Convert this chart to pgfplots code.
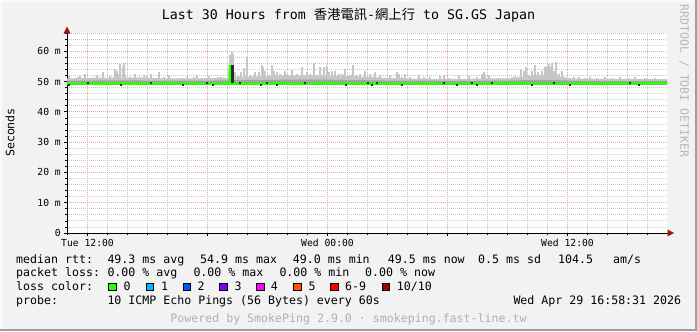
\documentclass[border=0pt]{standalone}
\usepackage{pgfplots}
\pgfplotsset{compat=1.18}
\usepackage{fontspec}
\setmainfont{DejaVu Sans Mono}
\newfontfamily\cjk{Noto Sans CJK TC}
\definecolor{canvas}{HTML}{F2F2F2}
\definecolor{shadeA}{HTML}{FAFAFA}
\definecolor{shadeB}{HTML}{9E9E9E}
\definecolor{mgrid}{HTML}{EBA6A6}
\definecolor{mingrid}{HTML}{C6C6C6}
\definecolor{arrowred}{HTML}{A01010}
\definecolor{medgreen}{HTML}{26FF00}
\definecolor{smokelight}{HTML}{C6C6C6}
\definecolor{smokemid}{HTML}{A2A2A2}
\definecolor{smokedark}{HTML}{2A2A2A}
\definecolor{credit}{HTML}{B0B0B0}
\definecolor{water}{HTML}{B8B8B8}
\definecolor{l0}{HTML}{26FF00}
\definecolor{l1}{HTML}{00B8FF}
\definecolor{l2}{HTML}{0059FF}
\definecolor{l3}{HTML}{7E00FF}
\definecolor{l4}{HTML}{FF00FF}
\definecolor{l5}{HTML}{FF5500}
\definecolor{l6}{HTML}{FF0000}
\definecolor{l10}{HTML}{A00000}

\begin{document}
\begin{tikzpicture}[x=1bp,y=1bp]
\fill[canvas] (0,0) rectangle (697,331);
\path[use as bounding box] (0,0) rectangle (697,331);
\fill[shadeA] (0,329) rectangle (697,331);
\fill[shadeA] (0,0) rectangle (2,331);
\fill[shadeB] (0,0) rectangle (697,2);
\fill[shadeB] (695,0) rectangle (697,331);

\begin{axis}[
  at={(67bp,98bp)}, anchor=south west,
  scale only axis, width=600bp, height=200bp,
  xmin=10.975, xmax=40.975, ymin=0, ymax=66,
  axis background/.style={fill=white},
  axis x line*=bottom, axis y line*=left,
  axis line style={black, line width=0.9bp},
  xtick={12,18,24,30,36},
  xticklabels={Tue 12:00,,Wed 00:00,,Wed 12:00},
  minor xtick={11,...,40},
  ytick={0,10,...,60},
  yticklabels={0,10 m,20 m,30 m,40 m,50 m,60 m},
  minor ytick={2,4,...,66},
  tick align=outside, major tick length=3bp, minor tick length=2bp,
  tick style={black, line width=0.7bp},
  grid=both,
  minor grid style={mingrid, dash pattern=on 1bp off 1bp, line width=0.8bp},
  major grid style={mgrid, dash pattern=on 1bp off 1bp, line width=0.8bp},
  ticklabel style={font=\fontsize{9.7bp}{10bp}\selectfont, text=black},
  xticklabel style={inner sep=0pt, yshift=-3bp},
  yticklabel style={inner sep=0pt, xshift=-3bp},
  unbounded coords=jump,
  clip=false,
]
% light smoke band (top edge forward, bottom edge back)
\addplot[fill=smokelight, draw=none, forget plot] table {
t y
10.975 51.0
12.0 51.2
13.0 51.3
14.0 51.3
15.0 51.2
16.0 51.0
17.0 51.0
18.0 51.1
19.0 51.2
20.0 51.6
21.0 51.8
22.0 52.0
23.0 52.0
24.0 52.0
25.0 51.8
26.0 51.5
27.0 51.2
28.0 51.0
29.0 50.9
30.0 50.9
31.0 50.9
32.0 51.0
33.0 51.0
33.6 51.4
34.2 52.0
35.0 52.3
35.6 51.6
36.2 51.0
37.0 50.9
38.0 50.9
39.0 50.9
40.0 50.8
40.975 50.8
40.975 48.9
10.975 48.9
} -- cycle;

% smoke spikes (time in hours since Tue 00:00, bottom and top in ms)
\addplot[smokelight, line width=1.8bp, forget plot] coordinates {
(11.075,49)(11.075,52.1)(11.075,nan)
(11.525,49)(11.525,51.6)(11.525,nan)
(11.625,49)(11.625,51.8)(11.625,nan)
(11.875,49)(11.875,52.4)(11.875,nan)
(12.325,49)(12.325,51.0)(12.325,nan)
(12.475,49)(12.475,52.1)(12.475,nan)
(12.775,49)(12.775,53.1)(12.775,nan)
(13.125,49)(13.125,51.8)(13.125,nan)
(13.375,49)(13.375,54.2)(13.375,nan)
(13.475,49)(13.475,53.5)(13.475,nan)
(13.575,49)(13.575,52.4)(13.575,nan)
(13.625,49)(13.625,55.8)(13.625,nan)
(13.775,49)(13.775,54.7)(13.775,nan)
(13.825,49)(13.825,56.0)(13.825,nan)
(13.875,49)(13.875,52.6)(13.875,nan)
(14.125,49)(14.125,51.6)(14.125,nan)
(14.375,49)(14.375,52.6)(14.375,nan)
(14.625,49)(14.625,51.6)(14.625,nan)
(14.825,49)(14.825,52.0)(14.825,nan)
(14.975,49)(14.975,51.8)(14.975,nan)
(15.175,49)(15.175,52.6)(15.175,nan)
(15.575,49)(15.575,53.1)(15.575,nan)
(15.825,49)(15.825,51.6)(15.825,nan)
(16.075,49)(16.075,52.0)(16.075,nan)
(16.725,49)(16.725,51.3)(16.725,nan)
(16.975,49)(16.975,51.6)(16.975,nan)
(17.325,49)(17.325,51.6)(17.325,nan)
(17.475,49)(17.475,52.1)(17.475,nan)
(17.825,49)(17.825,51.3)(17.825,nan)
(18.075,49)(18.075,51.8)(18.075,nan)
(18.525,49)(18.525,51.6)(18.525,nan)
(18.675,49)(18.675,51.6)(18.675,nan)
(19.125,49)(19.125,58.7)(19.125,nan)
(19.225,49)(19.225,59.8)(19.225,nan)
(19.275,49)(19.275,59.0)(19.275,nan)
(19.375,49)(19.375,53.0)(19.375,nan)
(19.525,49)(19.525,51.8)(19.525,nan)
(19.675,49)(19.675,53.2)(19.675,nan)
(19.825,49)(19.825,54.3)(19.825,nan)
(19.975,49)(19.975,58.1)(19.975,nan)
(20.125,49)(20.125,52.1)(20.125,nan)
(20.375,49)(20.375,53.1)(20.375,nan)
(20.575,49)(20.575,53.1)(20.575,nan)
(20.725,49)(20.725,55.6)(20.725,nan)
(20.775,49)(20.775,54.8)(20.775,nan)
(20.875,49)(20.875,53.6)(20.875,nan)
(21.025,49)(21.025,52.1)(21.025,nan)
(21.225,49)(21.225,55.4)(21.225,nan)
(21.325,49)(21.325,53.6)(21.325,nan)
(21.475,49)(21.475,53.0)(21.475,nan)
(21.625,49)(21.625,52.6)(21.625,nan)
(21.875,49)(21.875,53.6)(21.875,nan)
(21.975,49)(21.975,52.6)(21.975,nan)
(22.225,49)(22.225,53.8)(22.225,nan)
(22.475,49)(22.475,52.6)(22.475,nan)
(22.725,49)(22.725,54.7)(22.725,nan)
(22.975,49)(22.975,53.1)(22.975,nan)
(23.125,49)(23.125,52.6)(23.125,nan)
(23.325,49)(23.325,56.0)(23.325,nan)
(23.475,49)(23.475,52.1)(23.475,nan)
(23.625,49)(23.625,54.7)(23.625,nan)
(23.825,49)(23.825,54.9)(23.825,nan)
(23.975,49)(23.975,55.2)(23.975,nan)
(24.075,49)(24.075,53.1)(24.075,nan)
(24.225,49)(24.225,53.6)(24.225,nan)
(24.375,49)(24.375,53.6)(24.375,nan)
(24.575,49)(24.575,52.6)(24.575,nan)
(24.725,49)(24.725,52.6)(24.725,nan)
(24.875,49)(24.875,54.2)(24.875,nan)
(25.125,49)(25.125,52.1)(25.125,nan)
(25.275,49)(25.275,55.3)(25.275,nan)
(25.475,49)(25.475,52.1)(25.475,nan)
(25.625,49)(25.625,52.6)(25.625,nan)
(25.875,49)(25.875,53.6)(25.875,nan)
(26.125,49)(26.125,52.6)(26.125,nan)
(26.375,49)(26.375,53.1)(26.375,nan)
(26.625,49)(26.625,52.1)(26.625,nan)
(27.125,49)(27.125,52.1)(27.125,nan)
(27.475,49)(27.475,53.1)(27.475,nan)
(27.575,49)(27.575,52.6)(27.575,nan)
(27.725,49)(27.725,51.6)(27.725,nan)
(27.875,49)(27.875,52.6)(27.875,nan)
(28.125,49)(28.125,51.6)(28.125,nan)
(28.575,49)(28.575,52.1)(28.575,nan)
(28.825,49)(28.825,51.6)(28.825,nan)
(29.125,49)(29.125,51.6)(29.125,nan)
(29.625,49)(29.625,51.8)(29.625,nan)
(29.825,49)(29.825,52.1)(29.825,nan)
(30.075,49)(30.075,51.1)(30.075,nan)
(30.575,49)(30.575,52.1)(30.575,nan)
(31.075,49)(31.075,51.8)(31.075,nan)
(31.475,49)(31.475,51.6)(31.475,nan)
(31.725,49)(31.725,52.6)(31.725,nan)
(31.825,49)(31.825,53.1)(31.825,nan)
(31.875,49)(31.875,52.6)(31.875,nan)
(32.075,49)(32.075,52.1)(32.075,nan)
(32.525,49)(32.525,51.0)(32.525,nan)
(32.975,49)(32.975,51.0)(32.975,nan)
(33.225,49)(33.225,51.6)(33.225,nan)
(33.375,49)(33.375,51.8)(33.375,nan)
(33.675,49)(33.675,54.2)(33.675,nan)
(33.825,49)(33.825,53.4)(33.825,nan)
(33.925,49)(33.925,54.7)(33.925,nan)
(34.075,49)(34.075,52.1)(34.075,nan)
(34.225,49)(34.225,53.6)(34.225,nan)
(34.375,49)(34.375,55.5)(34.375,nan)
(34.525,49)(34.525,53.1)(34.525,nan)
(34.725,49)(34.725,53.6)(34.725,nan)
(34.875,49)(34.875,54.7)(34.875,nan)
(34.975,49)(34.975,55.2)(34.975,nan)
(35.075,49)(35.075,55.7)(35.075,nan)
(35.125,49)(35.125,54.7)(35.125,nan)
(35.225,49)(35.225,56.0)(35.225,nan)
(35.325,49)(35.325,53.6)(35.325,nan)
(35.425,49)(35.425,56.4)(35.425,nan)
(35.575,49)(35.575,52.6)(35.575,nan)
(35.725,49)(35.725,53.6)(35.725,nan)
(35.875,49)(35.875,51.6)(35.875,nan)
(36.075,49)(36.075,51.0)(36.075,nan)
(36.325,49)(36.325,51.6)(36.325,nan)
(36.575,49)(36.575,51.6)(36.575,nan)
(36.875,49)(36.875,51.0)(36.875,nan)
(37.125,49)(37.125,51.6)(37.125,nan)
(37.475,49)(37.475,51.1)(37.475,nan)
(37.875,49)(37.875,51.6)(37.875,nan)
(38.225,49)(38.225,51.0)(38.225,nan)
(38.625,49)(38.625,51.6)(38.625,nan)
(39.025,49)(39.025,51.1)(39.025,nan)
(39.375,49)(39.375,51.6)(39.375,nan)
(39.875,49)(39.875,51.0)(39.875,nan)
(40.375,49)(40.375,51.1)(40.375,nan)
(40.625,49)(40.625,50.9)(40.625,nan)
};

% denser smoke band just above the median
\addplot[fill=smokemid, draw=none, forget plot] table {
t y
10.975 50.3
12.0 50.3
13.0 50.4
14.0 50.4
15.0 50.3
16.0 50.3
17.0 50.3
18.0 50.3
19.0 50.4
20.0 50.5
21.0 50.5
22.0 50.6
23.0 50.6
24.0 50.6
25.0 50.5
26.0 50.4
27.0 50.3
28.0 50.3
29.0 50.3
30.0 50.2
31.0 50.2
32.0 50.3
33.0 50.3
33.6 50.4
34.2 50.5
35.0 50.5
35.6 50.4
36.2 50.3
37.0 50.2
38.0 50.2
39.0 50.2
40.0 50.2
40.975 50.2
40.975 48.9
10.975 48.9
} -- cycle;

% median rtt
\addplot[medgreen, line width=2.6bp, forget plot] table {
t med
10.975 49.3
11.5 49.2
12.0 49.4
12.5 49.2
13.0 49.3
13.5 49.4
14.0 49.2
14.5 49.3
15.0 49.3
15.5 49.2
16.0 49.3
16.5 49.4
17.0 49.2
17.5 49.3
18.0 49.3
18.5 49.2
19.0 49.3
19.1 49.3
19.12 54.9
19.14 54.9
19.16 49.5
19.3 49.4
19.5 49.2
20.0 49.3
20.5 49.2
21.0 49.3
21.5 49.4
22.0 49.3
22.5 49.2
23.0 49.3
23.5 49.3
24.0 49.4
24.5 49.2
25.0 49.3
25.5 49.3
26.0 49.2
26.5 49.3
27.0 49.3
27.5 49.2
28.0 49.3
28.5 49.3
29.0 49.2
29.5 49.3
30.0 49.3
30.5 49.2
31.0 49.3
31.5 49.3
32.0 49.2
32.5 49.3
33.0 49.3
33.5 49.4
34.0 49.3
34.5 49.2
35.0 49.3
35.5 49.3
36.0 49.2
36.5 49.3
37.0 49.3
37.5 49.2
38.0 49.3
38.5 49.3
39.0 49.4
39.5 49.3
40.0 49.4
40.5 49.5
40.975 49.5
};

% dark burst (drawn over the median, as in the reference)
\addplot[smokedark, line width=3.4bp, forget plot] coordinates {(19.235,49.6)(19.235,55.6)};

% dark smoke pixels showing on the median line
\addplot[only marks, mark=square*, mark size=0.5bp, color=smokedark, forget plot] coordinates {
(11.075,49.0)(12.025,49.5)(13.675,49.0)(15.175,49.6)(16.775,49.0)(17.975,49.5)
(18.275,49.0)(19.625,49.6)(20.675,49.0)(20.975,49.5)(21.475,49.0)(22.875,49.6)
(24.925,49.0)(26.025,49.5)(26.225,49.0)(26.475,49.5)(27.725,49.0)(29.825,49.6)
(30.475,49.0)(31.225,49.5)(31.475,49.0)(32.225,49.6)(34.225,49.0)(35.325,49.5)
(36.125,49.0)(39.125,49.6)(39.575,49.0)
};
\end{axis}

% axis arrows
\fill[arrowred] (63.5,297.5) -- (70.5,297.5) -- (67,304.5) -- cycle;
\draw[black, line width=0.9bp] (667,98) -- (668,98);
\fill[arrowred] (667.5,94.5) -- (667.5,101.5) -- (674,98) -- cycle;

% title
\node[anchor=base, inner sep=0pt] at (348.5,311.5)
  {\fontsize{13.3bp}{14bp}\selectfont Last 30 Hours from {\cjk 香港電訊}-{\cjk 網上行} to SG.GS Japan};
% vertical label
\node[rotate=90, inner sep=0pt] at (10,198.5) {\fontsize{11.6bp}{12bp}\selectfont Seconds};
% watermark
\node[rotate=-90, inner sep=0pt, text=water] at (684,250) {\fontsize{11.5bp}{12bp}\selectfont RRDTOOL / TOBI OETIKER};

\begin{scope}[every node/.style={anchor=base west, inner sep=0pt, font=\fontsize{11.6bp}{12bp}\selectfont}]
\node at (16,67.7) {median rtt:};
\node at (107.3,67.7) {49.3 ms avg};
\node at (200,67.7) {54.9 ms max};
\node at (292.7,67.7) {49.0 ms min};
\node at (387.7,67.7) {49.5 ms now};
\node at (478,67.7) {0.5 ms sd};
\node at (558,67.7) {104.5};
\node at (613,67.7) {am/s};
\node at (16,54.3) {packet loss:};
\node at (107.3,54.3) {0.00 \% avg};
\node at (193.3,54.3) {0.00 \% max};
\node at (279.3,54.3) {0.00 \% min};
\node at (365,54.3) {0.00 \% now};
\node at (16,40.3) {loss color:};
\node at (123.3,40.3) {0};
\node at (161,40.3) {1};
\node at (197.3,40.3) {2};
\node at (234.3,40.3) {3};
\node at (270.7,40.3) {4};
\node at (308.3,40.3) {5};
\node at (345,40.3) {6-9};
\node at (396.7,40.3) {10/10};
\node at (16,26.7) {probe:};
\node at (107.3,26.7) {10 ICMP Echo Pings (56 Bytes) every 60s};
\node at (513.3,26.7) {Wed Apr 29 16:58:31 2026};
\end{scope}
\begin{scope}[line width=0.8bp]
\filldraw[fill=l0, draw=black] (108.8,40.6) rectangle ++(7.4,7.4);
\filldraw[fill=l1, draw=black] (146.1,40.6) rectangle ++(7.4,7.4);
\filldraw[fill=l2, draw=black] (183.1,40.6) rectangle ++(7.4,7.4);
\filldraw[fill=l3, draw=black] (219.8,40.6) rectangle ++(7.4,7.4);
\filldraw[fill=l4, draw=black] (256.8,40.6) rectangle ++(7.4,7.4);
\filldraw[fill=l5, draw=black] (293.8,40.6) rectangle ++(7.4,7.4);
\filldraw[fill=l6, draw=black] (330.5,40.6) rectangle ++(7.4,7.4);
\filldraw[fill=l10, draw=black] (382.1,40.6) rectangle ++(7.4,7.4);
\end{scope}
\node[anchor=base, inner sep=0pt, text=credit] at (348.5,9)
  {\fontsize{11.6bp}{12bp}\selectfont Powered by SmokePing 2.9.0 · smokeping.fast-line.tw};
\end{tikzpicture}
\end{document}
